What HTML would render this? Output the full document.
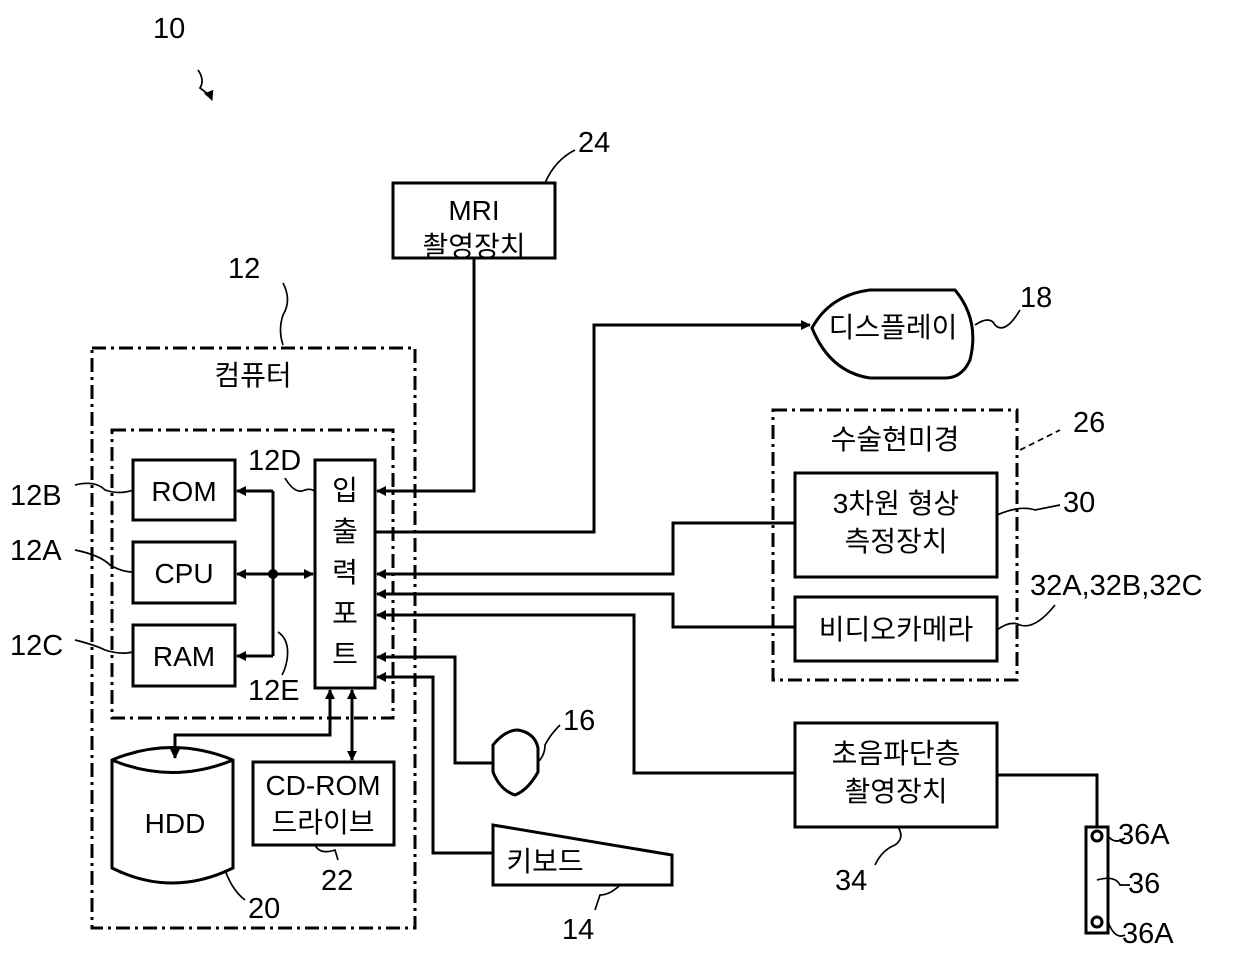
<!DOCTYPE html>
<html><head><meta charset="utf-8"><style>
body{margin:0;background:#fff}
svg{display:block}
text{font-family:"Liberation Sans","Noto Sans CJK KR",sans-serif;fill:#000}
</style></head><body>
<svg width="1240" height="965" viewBox="0 0 1240 965" xmlns="http://www.w3.org/2000/svg">
<defs>
<marker id="a" markerWidth="10" markerHeight="10" refX="9" refY="5" orient="auto" markerUnits="userSpaceOnUse"><path d="M0,0 L10,5 L0,10 z" fill="#000"/></marker>
</defs>
<g fill="none" stroke="#000" stroke-width="3">
<rect x="92" y="348" width="323" height="580" stroke-dasharray="14,5,3,5"/>
<rect x="112" y="430" width="281" height="288" stroke-dasharray="14,5,3,5"/>
<rect x="773" y="410" width="244" height="270" stroke-dasharray="14,5,3,5"/>
<rect x="133" y="460" width="102" height="60"/>
<rect x="133" y="542" width="102" height="61"/>
<rect x="133" y="625" width="102" height="61"/>
<rect x="315" y="460" width="60" height="228"/>
<rect x="253" y="762" width="141" height="83"/>
<rect x="393" y="183" width="162" height="75"/>
<rect x="795" y="473" width="202" height="104"/>
<rect x="795" y="597" width="202" height="64"/>
<rect x="795" y="723" width="202" height="104"/>
<rect x="1086" y="827" width="22" height="106"/>
<circle cx="1097" cy="836" r="5"/>
<circle cx="1097" cy="922" r="5"/>
<path d="M112,760 Q172,735 233,760 L233,868 Q172,898 112,868 Z"/>
<path d="M112,760 Q172,785 233,760"/>
<path d="M812,328 Q830,295 870,290 L955,290 Q980,320 970,360 Q962,378 945,378 L870,378 Q830,372 812,328 Z"/>
<path d="M493,745 Q505,730 518,730 Q535,733 538,748 L538,772 Q528,790 515,795 Q500,790 493,772 Z"/>
<path d="M493,825 L493,885 L672,885 L672,855 Z"/>
<line x1="273" y1="491" x2="273" y2="656"/>
<line x1="273" y1="491" x2="237" y2="491" marker-end="url(#a)"/>
<line x1="273" y1="574" x2="237" y2="574" marker-end="url(#a)"/>
<line x1="273" y1="656" x2="237" y2="656" marker-end="url(#a)"/>
<line x1="273" y1="574" x2="313" y2="574" marker-end="url(#a)"/>
<polyline points="474,258 474,491 377,491" marker-end="url(#a)"/>
<polyline points="375,532 594,532 594,325 810,325" marker-end="url(#a)"/>
<polyline points="795,523 673,523 673,574 377,574" marker-end="url(#a)"/>
<polyline points="795,627 673,627 673,594 377,594" marker-end="url(#a)"/>
<polyline points="795,773 634,773 634,615 377,615" marker-end="url(#a)"/>
<polyline points="493,763 455,763 455,657 377,657" marker-end="url(#a)"/>
<polyline points="493,853 433,853 433,677 377,677" marker-end="url(#a)"/>
<polyline points="997,775 1097,775 1097,827"/>
<polyline points="330,690 330,735 175,735 175,758" marker-end="url(#a)"/>
<line x1="330" y1="720" x2="330" y2="690" marker-end="url(#a)"/>
<line x1="352" y1="725" x2="352" y2="690" marker-end="url(#a)"/>
<line x1="352" y1="725" x2="352" y2="760" marker-end="url(#a)"/>
</g>
<circle cx="273" cy="574" r="5" fill="#000"/>
<g fill="none" stroke="#000" stroke-width="1.7">
<path d="M198,70 Q205,80 200,88 Q210,95 212,100" marker-end="url(#a)"/>
<path d="M545,183 Q555,160 575,150"/>
<path d="M283,283 Q292,300 283,315 Q278,330 283,345"/>
<path d="M975,325 Q990,315 995,325 Q1005,335 1020,310"/>
<path d="M1020,450 L1040,440 L1060,430" stroke-dasharray="6,4"/>
<path d="M997,515 Q1020,505 1035,510 L1060,505"/>
<path d="M997,630 Q1010,620 1020,625 Q1035,630 1055,605"/>
<path d="M75,485 Q95,480 105,490 Q120,495 133,490"/>
<path d="M75,550 Q100,555 110,565 Q122,572 133,572"/>
<path d="M75,640 Q95,645 105,650 Q120,655 133,652"/>
<path d="M285,478 Q295,495 305,490 Q312,488 315,492"/>
<path d="M278,632 Q290,640 287,660 Q285,670 282,675"/>
<path d="M538,762 Q545,755 545,745 Q550,735 560,725"/>
<path d="M225,870 Q232,890 245,900"/>
<path d="M315,845 Q320,855 335,850 L338,860"/>
<path d="M620,885 Q610,895 600,895 L595,910"/>
<path d="M898,827 Q905,838 895,845 Q882,850 875,865"/>
<path d="M1108,836 Q1115,845 1125,838"/>
<path d="M1097,880 Q1115,875 1120,885 L1130,885"/>
<path d="M1108,922 Q1115,940 1125,935"/>
</g>
<g font-size="29">
<text x="153" y="38">10</text>
<text x="578" y="152">24</text>
<text x="228" y="278">12</text>
<text x="1020" y="307">18</text>
<text x="1073" y="432">26</text>
<text x="1063" y="512">30</text>
<text x="1030" y="595">32A,32B,32C</text>
<text x="10" y="505">12B</text>
<text x="10" y="560">12A</text>
<text x="10" y="655">12C</text>
<text x="248" y="470">12D</text>
<text x="248" y="700">12E</text>
<text x="563" y="730">16</text>
<text x="248" y="918">20</text>
<text x="321" y="890">22</text>
<text x="562" y="939">14</text>
<text x="835" y="890">34</text>
<text x="1118" y="844">36A</text>
<text x="1128" y="893">36</text>
<text x="1122" y="943">36A</text>
</g>
<g font-size="28" text-anchor="middle">
<text x="253" y="385">컴퓨터</text>
<text x="184" y="501">ROM</text>
<text x="184" y="583">CPU</text>
<text x="184" y="666">RAM</text>
<text x="345" y="500">입</text>
<text x="345" y="541">출</text>
<text x="345" y="582">력</text>
<text x="345" y="623">포</text>
<text x="345" y="664">트</text>
<text x="175" y="833">HDD</text>
<text x="323" y="795">CD-ROM</text>
<text x="323" y="832">드라이브</text>
<text x="474" y="220">MRI</text>
<text x="474" y="256">촬영장치</text>
<text x="893" y="337">디스플레이</text>
<text x="895" y="449">수술현미경</text>
<text x="896" y="513">3차원 형상</text>
<text x="896" y="551">측정장치</text>
<text x="896" y="639">비디오카메라</text>
<text x="896" y="763">초음파단층</text>
<text x="896" y="801">촬영장치</text>
<text x="545" y="871">키보드</text>
</g>
</svg>
</body></html>
